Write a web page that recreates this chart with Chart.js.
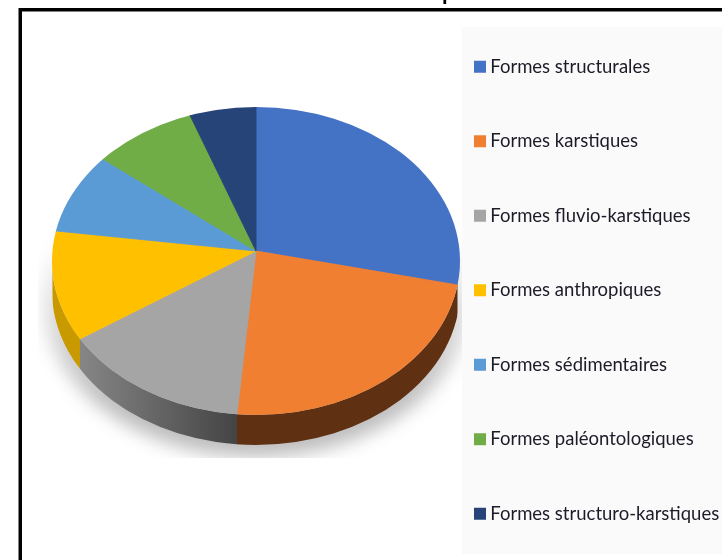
<!DOCTYPE html>
<html>
<head>
<meta charset="utf-8">
<style>
  html, body { margin: 0; padding: 0; background: #fff; overflow: hidden; }
  #wrap { position: relative; width: 722px; height: 560px; }
</style>
</head>
<body>
<div id="wrap"><canvas id="pieChart" width="722" height="560"></canvas></div>
<script src="https://cdn.jsdelivr.net/npm/chart.js@4"></script>
<script>
const categories = ['Formes structurales', 'Formes karstiques', 'Formes fluvio-karstiques', 'Formes anthropiques', 'Formes sédimentaires', 'Formes paléontologiques', 'Formes structuro-karstiques'];
const shares = [28.5, 22.9, 14.3, 11.4, 8.6, 8.7, 5.6];
const sliceColors = ['#4472c4', '#f07f32', '#a5a5a5', '#ffc000', '#5b9bd5', '#70ad47', '#264478'];
const wallColors = [null, '#5f3012', ['#868686', '#444444'], '#c99a00', null, null, null];

// top face: apex and rim are not concentric, the picture has some perspective
const apex = { x: 256, y: 251 };
const rim = { x: 256, y: 261, rx: 204, ry: 154 };
const squash = 154 / 204;
const depth = 30;

function rimX(angle) {
    // where the ray from the apex meets the rim, angle as stored on the arc
    const dx = Math.cos(angle) / rim.rx, dy = Math.sin(angle) * squash / rim.ry;
    const oy = (apex.y - rim.y) / rim.ry;
    const a = dx * dx + dy * dy, b = 2 * dy * oy, c = oy * oy - 1;
    const t = (-b + Math.sqrt(b * b - 4 * a * c)) / (2 * a);
    return apex.x + Math.cos(angle) * t;
}

const piePlugin = {
    id: 'pie3d',
    afterLayout(chart) {
        const lg = chart.legend;
        lg.maxHeight = 700;
        lg.fit();
        lg.left = 479 - lg.options.labels.padding;
        lg.top = 1.5;
        lg.bottom = 700;
        // the slices run past the rim, the clip below cuts them to it
        Object.assign(chart.chartArea, { left: 16, right: 496, top: 11, bottom: 491, width: 480, height: 480 });
    },
    beforeDraw(chart) {
        const ctx = chart.ctx;
        ctx.save();
        ctx.fillStyle = '#fafafa';
        ctx.fillRect(462, 27, 260, 527);
        ctx.fillStyle = '#000';
        ctx.fillRect(19, 8, 703, 3.5);
        ctx.fillRect(18.5, 8, 3.5, 552);
        // bottom of the cut off title
        ctx.font = 'bold 20px "Liberation Sans"';
        ctx.textBaseline = 'alphabetic';
        ctx.fillText('p', 442, 0);
        ctx.restore();
    },
    beforeDatasetsDraw(chart) {
        const ctx = chart.ctx;
        const meta = chart.getDatasetMeta(0);

        // soft shadow, fades out going up
        ctx.save();
        ctx.beginPath();
        ctx.rect(38, 200, 424, 258);
        ctx.clip();
        const sh = ctx.createLinearGradient(0, 215, 0, 400);
        sh.addColorStop(0, 'rgba(0,0,0,0)');
        sh.addColorStop(1, 'rgba(0,0,0,0.26)');
        ctx.filter = 'blur(9px)';
        ctx.fillStyle = sh;
        ctx.beginPath();
        ctx.ellipse(rim.x, rim.y + 40, rim.rx + 8, rim.ry + 2, 0, 0, Math.PI * 2);
        ctx.fill();
        ctx.restore();

        // side walls
        meta.data.forEach((arc, i) => {
            const start = Math.max(arc.startAngle, 0), end = Math.min(arc.endAngle, Math.PI);
            if (end <= start || !wallColors[i]) return;
            const x0 = rimX(end), x1 = rimX(start);
            ctx.save();
            ctx.beginPath();
            ctx.rect(x0, rim.y, x1 - x0, rim.ry + depth + 2);
            ctx.clip();
            if (Array.isArray(wallColors[i])) {
                const g = ctx.createLinearGradient(x0, 0, x1, 0);
                g.addColorStop(0, wallColors[i][0]);
                g.addColorStop(1, wallColors[i][1]);
                ctx.fillStyle = g;
            } else {
                ctx.fillStyle = wallColors[i];
            }
            ctx.beginPath();
            ctx.ellipse(rim.x, rim.y, rim.rx, rim.ry, 0, 0, Math.PI);
            ctx.lineTo(rim.x - rim.rx, rim.y + depth);
            ctx.ellipse(rim.x, rim.y + depth, rim.rx, rim.ry, 0, Math.PI, 0, true);
            ctx.closePath();
            ctx.fill();
            ctx.restore();
        });

        // top face, drawn by the controller under a flattening transform
        ctx.save();
        ctx.beginPath();
        ctx.ellipse(rim.x, rim.y, rim.rx, rim.ry, 0, 0, Math.PI * 2);
        ctx.clip();
        ctx.translate(apex.x, apex.y);
        ctx.scale(1, squash);
        ctx.translate(-meta.data[0].x, -meta.data[0].y);
        meta.controller.draw();
        ctx.restore();
        return false;
    }
};

new Chart(document.getElementById('pieChart'), {
    type: 'pie',
    data: {
        labels: categories,
        datasets: [{
            data: shares,
            backgroundColor: sliceColors,
            borderColor: sliceColors,
            borderWidth: 1
        }]
    },
    options: {
        responsive: false,
        animation: false,
        plugins: {
            tooltip: { enabled: false },
            legend: {
                position: 'right',
                align: 'start',
                labels: {
                    // small box with a thick stroke gives a 12px square close to the text
                    boxWidth: 2,
                    boxHeight: 2,
                    padding: 56,
                    color: '#1c1c28',
                    font: { family: 'Lato', size: 18.5 },
                    generateLabels(chart) {
                        return Chart.overrides.pie.plugins.legend.labels.generateLabels(chart).map((it) => {
                            it.strokeStyle = it.fillStyle;
                            it.lineWidth = 10;
                            return it;
                        });
                    }
                }
            }
        }
    },
    plugins: [piePlugin]
});
</script>
</body>
</html>
